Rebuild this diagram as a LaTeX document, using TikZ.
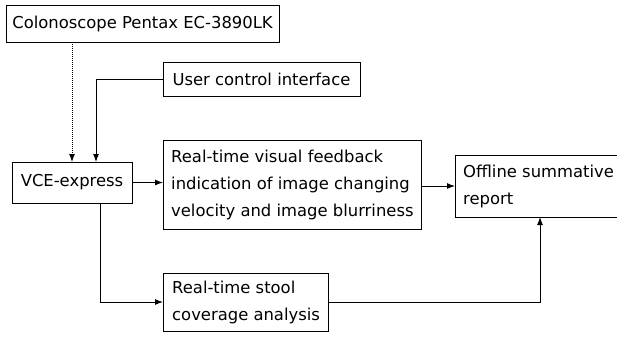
\documentclass[tikz,border=0pt]{standalone}
\usepackage{fontspec}
\setmainfont{DejaVu Sans}
\usetikzlibrary{arrows.meta}
\begin{document}
\begin{tikzpicture}[x=1pt,y=-1pt,
  box/.style={draw, line width=1pt, inner sep=0pt, outer sep=0pt, font=\fontsize{16.4}{27}\selectfont},
  txt/.style={anchor=west, inner sep=0pt, align=left, font=\fontsize{16.4}{27}\selectfont},
  conn/.style={line width=1pt, -{Latex[length=8pt,width=6pt]}}]
\useasboundingbox (0,0) rectangle (617,338);
\node[box, minimum width=273pt, minimum height=37pt] (colon) at (142.5,23.5) {Colonoscope Pentax EC-3890LK};
\node[box, minimum width=197pt, minimum height=34pt] (user) at (261.5,79) {User control interface};
\node[box, minimum width=120pt, minimum height=41pt] (vce) at (72,182.5) {VCE-express};
\node[box, minimum width=258pt, minimum height=89pt] (feed) at (292,184.5) {};
\node[txt] (feedt) at (171,184.5) {Real-time visual feedback\\indication of image changing\\velocity and image blurriness};
\node[box, minimum width=165pt, minimum height=62pt] (off) at (537.5,186) {};
\node[txt] (offt) at (463,186) {Offline summative\\report};
\node[box, minimum width=165pt, minimum height=58pt] (stool) at (245.5,302) {};
\node[txt] (stoolt) at (172,302) {Real-time stool\\coverage analysis};
\draw[conn, densely dotted] (colon.south -| vce.north) -- (vce.north);
\coordinate (uc) at (96,0);
\draw[conn] (user.west) -| (uc |- vce.north);
\draw[conn] (vce.east) -- (feed.west |- vce.east);
\draw[conn] (feed.east |- off.west) -- (off.west);
\coordinate (vb) at (100,0);
\draw[conn] (vb |- vce.south) |- (stool.west);
\coordinate (ob) at (540,0);
\draw[conn] (stool.east) -| (ob |- off.south);
\end{tikzpicture}
\end{document}
